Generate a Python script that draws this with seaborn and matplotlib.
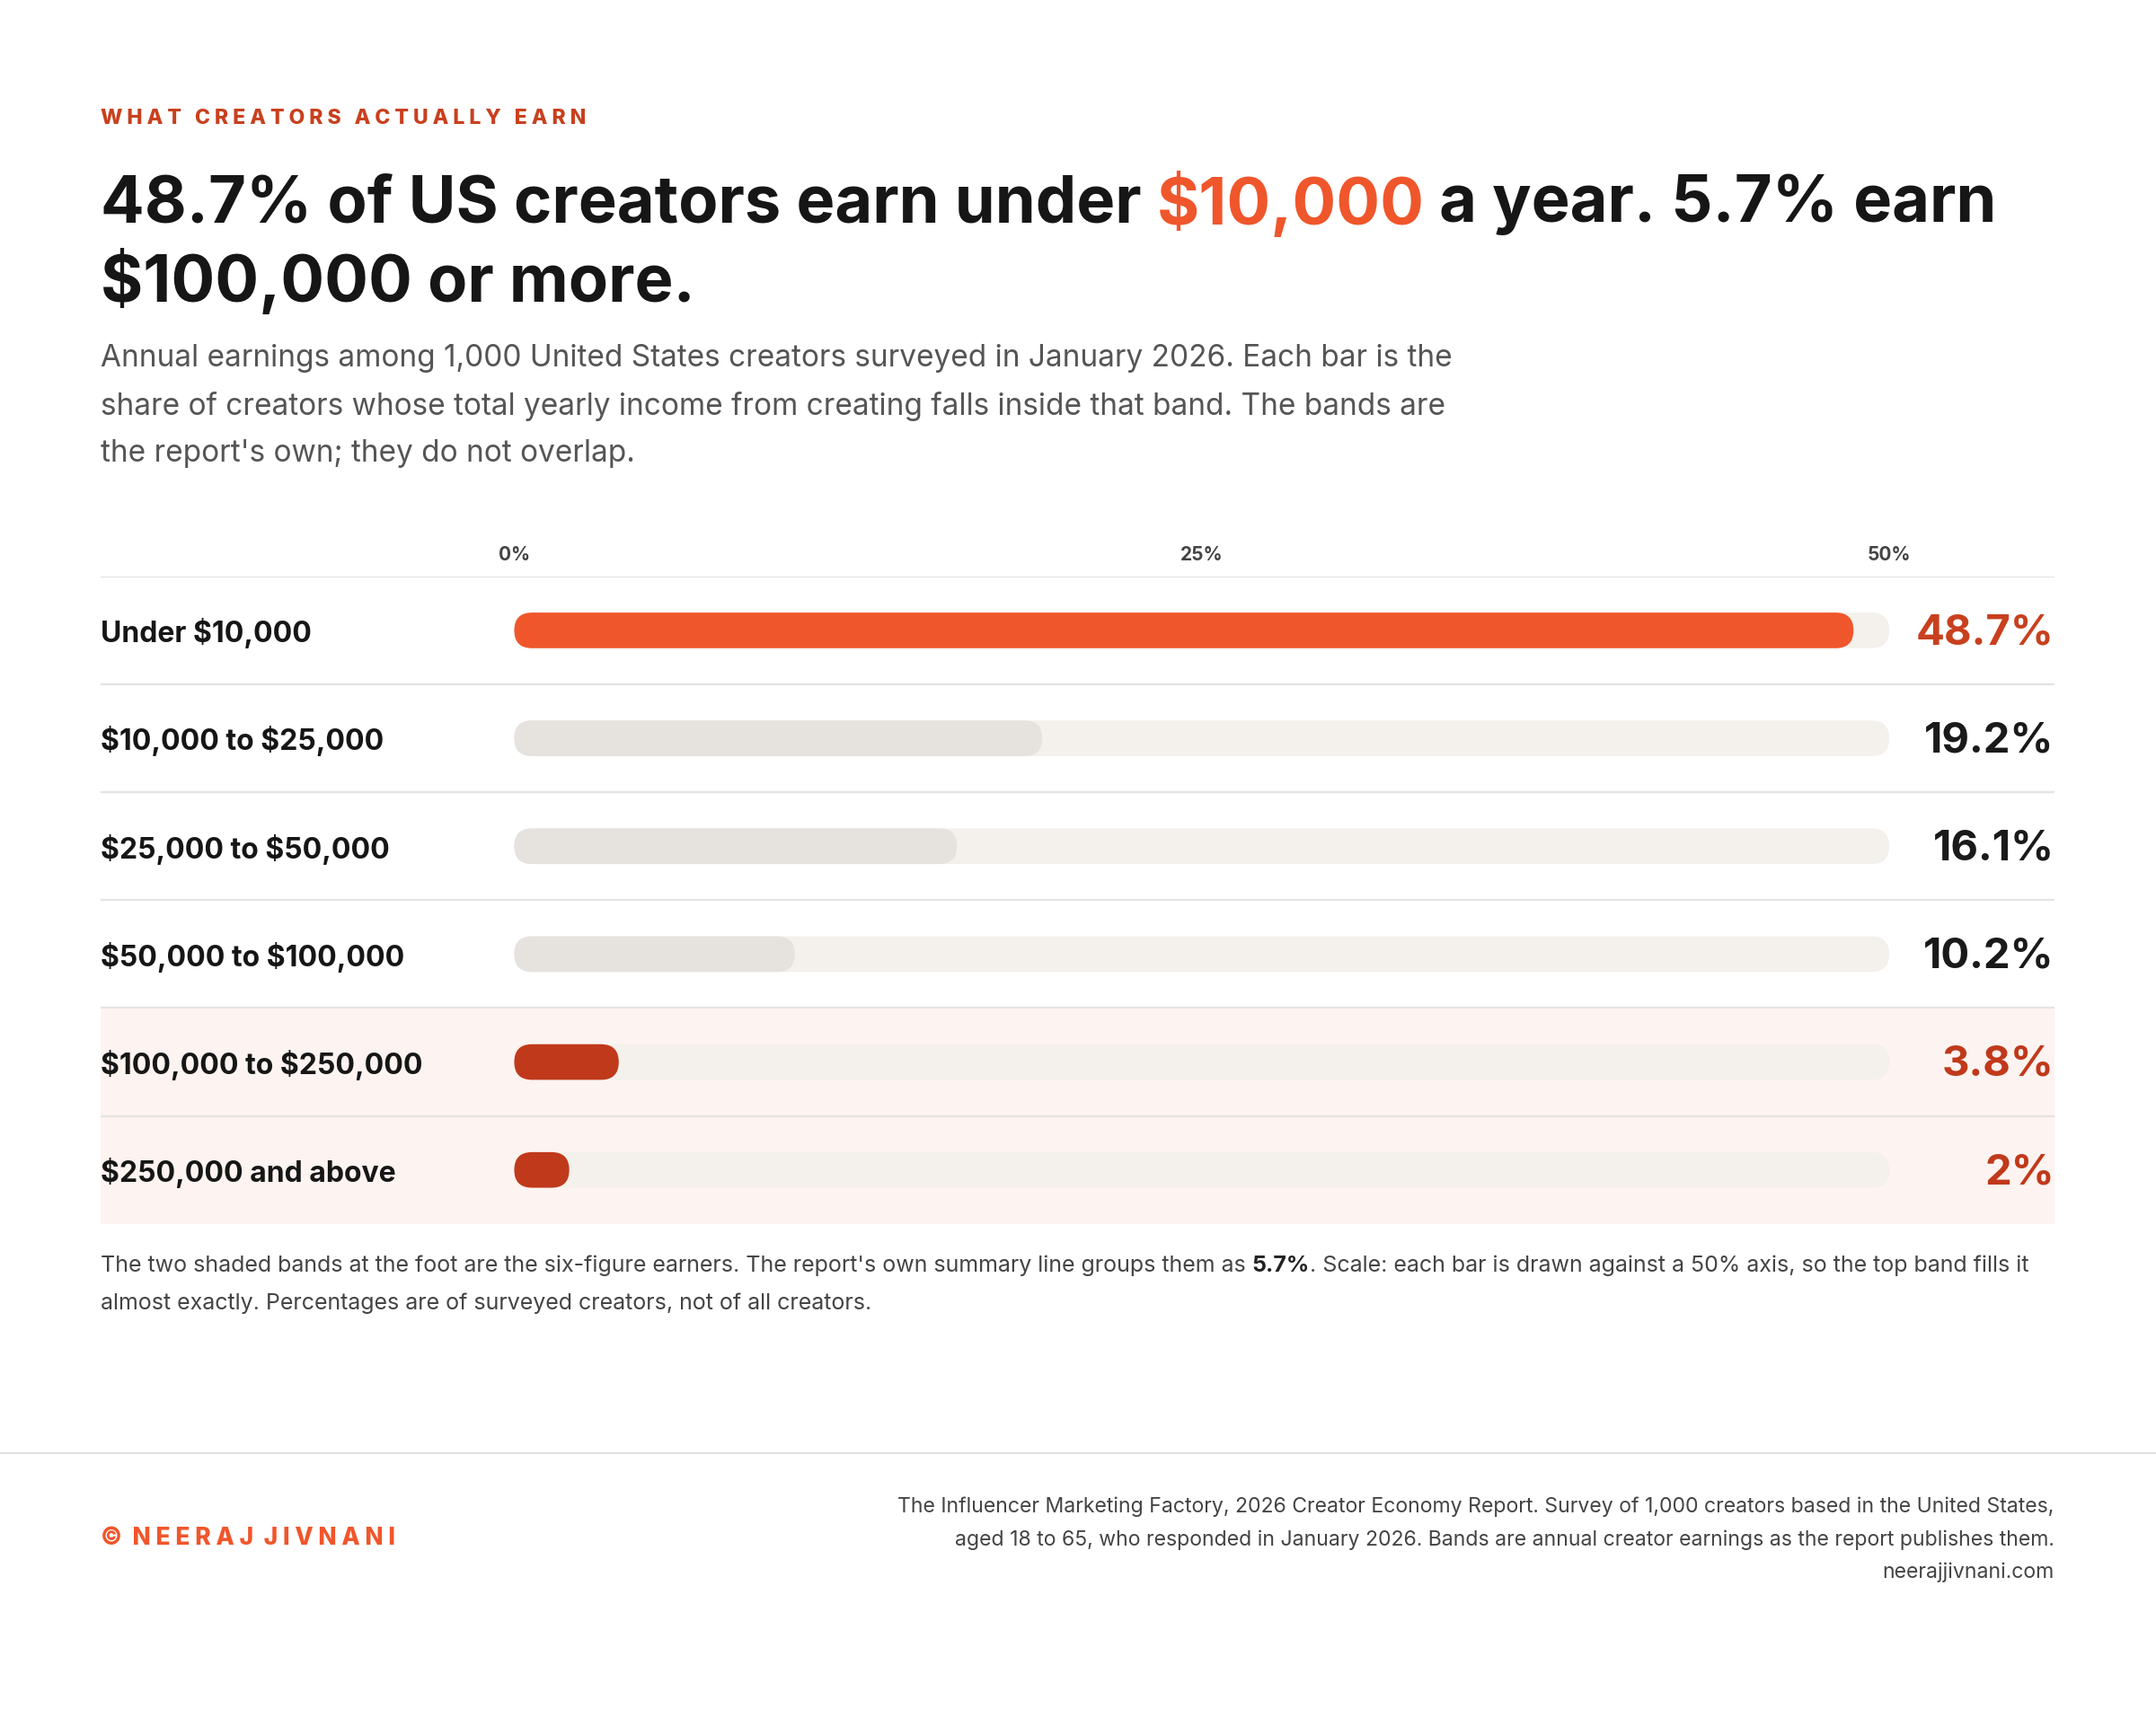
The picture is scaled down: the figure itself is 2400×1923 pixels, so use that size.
import matplotlib.pyplot as plt
import seaborn as sns
import pandas as pd
from matplotlib.patches import FancyBboxPatch

sns.set_theme(style="white")
plt.rcParams['font.family'] = ['Inter', 'DejaVu Sans']
plt.rcParams['text.parse_math'] = False

# data
bands = ["Under $10,000", "$10,000 to $25,000", "$25,000 to $50,000",
         "$50,000 to $100,000", "$100,000 to $250,000", "$250,000 and above"]
shares = [48.7, 19.2, 16.1, 10.2, 3.8, 2.0]
value_labels = ["48.7%", "19.2%", "16.1%", "10.2%", "3.8%", "2%"]
tick_vals = [0, 25, 50]
tick_labels = ["0%", "25%", "50%"]

fill_colors = ["#f0562b", "#e6e2de", "#e6e2de", "#e6e2de", "#c0391b", "#c0391b"]
value_colors = ["#c8401e", "#1a1a1a", "#1a1a1a", "#1a1a1a", "#c0391b", "#c0391b"]
TRACK = "#f4f0ec"
W, H = 1568, 1257  # layout grid of the reference

fig = plt.figure(figsize=(12, 9.62), dpi=200)
fig.patch.set_facecolor("white")

def fx(px): return px / W
def fy(py): return 1 - py / H

renderer = fig.canvas.get_renderer()

def runs(x, y, parts, **kw):
    # place differently-styled text pieces one after another
    for s, props in parts:
        t = fig.text(x, y, s, **{**kw, **props})
        bb = t.get_window_extent(renderer)
        x = fig.transFigure.inverted().transform((bb.x1, bb.y0))[0]

# header
fig.text(fx(73), fy(86), "W H A T   C R E A T O R S   A C T U A L L Y   E A R N",
         color="#c8401e", fontsize=8.3, fontweight="heavy", va="center")
tkw = dict(fontsize=26, fontweight="bold", va="center")
runs(fx(73), fy(149), [("48.7% of US creators earn under ", dict(color="#161616")),
                       ("$10,000", dict(color="#f0562b")),
                       (" a year. 5.7% earn", dict(color="#161616"))], **tkw)
fig.text(fx(73), fy(205), "$100,000 or more.", color="#161616", **tkw)
subtitle = ["Annual earnings among 1,000 United States creators surveyed in January 2026. Each bar is the",
            "share of creators whose total yearly income from creating falls inside that band. The bands are",
            "the report's own; they do not overlap."]
for i, line in enumerate(subtitle):
    fig.text(fx(73), fy(261 + 34.5 * i), line, color="#555555", fontsize=12, va="center")

# chart
ax = fig.add_axes([fx(73), fy(891), fx(1494) - fx(73), fy(420) - fy(891)])
df = pd.DataFrame({"band": bands, "share": shares, "track": [50] * 6})
sns.barplot(data=df, y="band", x="track", color=TRACK, ax=ax, width=0.33, saturation=1)
sns.barplot(data=df, y="band", x="share", hue="band", palette=fill_colors, ax=ax,
            width=0.33, saturation=1, legend=False)
ax.set_xlim(-15.05, 56)
ax.set_ylim(5.5, -0.5)

# turn bars into rounded pills
rx = 0.65
ry = 0.165
for p in list(ax.patches):
    x0, y0, w, h = p.get_x(), p.get_y(), p.get_width(), p.get_height()
    fc = p.get_facecolor()
    z = p.get_zorder()
    p.remove()
    ax.add_patch(FancyBboxPatch((x0, y0), w, h, boxstyle=f"round,pad=0,rounding_size={rx}",
                                mutation_aspect=ry / rx, fc=fc, ec="none", zorder=z))

ax.axhspan(3.5, 5.5, color="#fdf3f0", zorder=0)
for yb in [-0.5, 0.5, 1.5, 2.5, 3.5, 4.5]:
    ax.axhline(yb, color="#e3e3e3", lw=0.8, zorder=0.5)
for i, (b, v, c) in enumerate(zip(bands, value_labels, value_colors)):
    ax.text(-15.05, i + 0.02, b, fontsize=11.5, fontweight="bold", color="#161616", va="center", ha="left")
    ax.text(56, i + 0.02, v, fontsize=17, fontweight="bold", color=c, va="center", ha="right")
for tv, tl in zip(tick_vals, tick_labels):
    ax.text(tv, -0.71, tl, fontsize=7.5, fontweight="bold", color="#444444", ha="center", va="center")
ax.set_axis_off()

# note
nkw = dict(fontsize=9, color="#444444", va="center")
runs(fx(73), fy(921), [("The two shaded bands at the foot are the six-figure earners. The report's own summary line groups them as ", {}),
                       ("5.7%", dict(fontweight="bold", color="#222222")),
                       (". Scale: each bar is drawn against a 50% axis, so the top band fills it", {})], **nkw)
fig.text(fx(73), fy(948), "almost exactly. Percentages are of surveyed creators, not of all creators.", **nkw)

# footer
fig.add_artist(plt.Line2D([0, 1], [fy(1058), fy(1058)], color="#e3e3e3", lw=0.8))
fig.text(fx(73), fy(1119), "©  N E E R A J  J I V N A N I", color="#f0562b",
         fontsize=9.5, fontweight="heavy", va="center")
source = ["The Influencer Marketing Factory, 2026 Creator Economy Report. Survey of 1,000 creators based in the United States,",
          "aged 18 to 65, who responded in January 2026. Bands are annual creator earnings as the report publishes them.",
          "neerajjivnani.com"]
for i, line in enumerate(source):
    fig.text(fx(1494), fy(1096 + 24 * i), line, color="#444444", fontsize=8.3, ha="right", va="center")

fig.savefig("out.png", dpi=200, facecolor="white")
